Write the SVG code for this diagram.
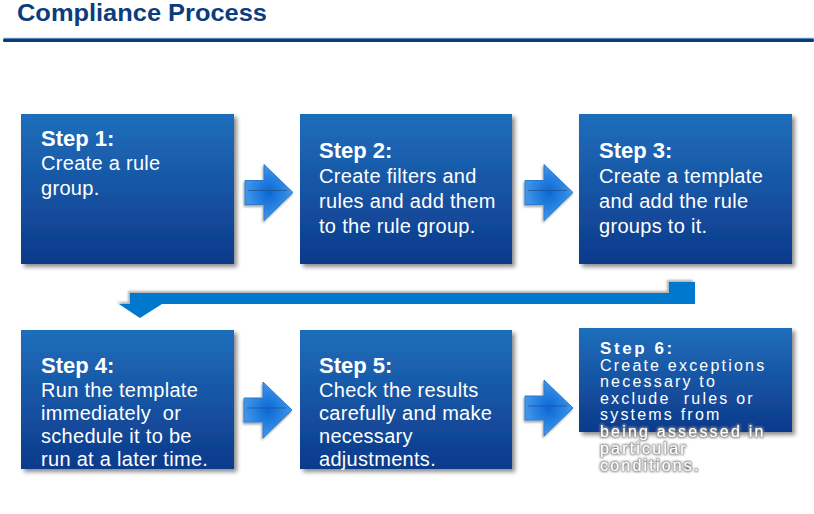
<svg xmlns="http://www.w3.org/2000/svg" width="814" height="514" viewBox="0 0 814 514">
<defs>
  <linearGradient id="boxGrad" x1="0" y1="0" x2="0" y2="1">
    <stop offset="0" stop-color="#1F6EBB"/>
    <stop offset="1" stop-color="#0D3A8B"/>
  </linearGradient>
  <radialGradient id="arrGrad" cx="0.5" cy="0.5" r="0.6">
    <stop offset="0" stop-color="#0A67D4"/>
    <stop offset="1" stop-color="#4CA2EE"/>
  </radialGradient>
  <filter id="boxShadow" x="-10%" y="-10%" width="125%" height="125%">
    <feDropShadow dx="3" dy="3" stdDeviation="2" flood-color="#000" flood-opacity="0.45"/>
  </filter>
  <filter id="arrShadow" x="-20%" y="-20%" width="140%" height="140%">
    <feDropShadow dx="-1" dy="2" stdDeviation="1.2" flood-color="#000" flood-opacity="0.35"/>
  </filter>
  <filter id="barShadow" x="-5%" y="-50%" width="110%" height="200%">
    <feDropShadow dx="-2" dy="-2" stdDeviation="1.2" flood-color="#000" flood-opacity="0.3"/>
  </filter>
  <filter id="halo" x="-10%" y="-60%" width="120%" height="220%">
    <feMorphology in="SourceAlpha" operator="dilate" radius="1" result="d"/>
    <feGaussianBlur in="d" stdDeviation="0.9" result="b"/>
    <feFlood flood-color="#8a8a8a"/>
    <feComposite in2="b" operator="in" result="s"/>
    <feMerge><feMergeNode in="s"/><feMergeNode in="SourceGraphic"/></feMerge>
  </filter>
  <g id="rarrow">
    <path d="M0,-12 L19,-12 L19,-28 L48,0 L19,28 L19,12 L0,12 Z" fill="url(#arrGrad)" stroke="#2C78CC" stroke-width="1"/>
    <line x1="3" y1="-2" x2="42" y2="-2" stroke="#1E4F8F" stroke-width="1" opacity="0.7"/>
  </g>
</defs>
<style>
  .title { font-family: "Liberation Sans", Arial, sans-serif; font-weight: bold; font-size: 23px; fill: #0B3D7E; }
  .box { fill: url(#boxGrad); filter: url(#boxShadow); }
  .step { font-family: "Liberation Sans", Arial, sans-serif; font-weight: bold; font-size: 22px; fill: #FFFFFF; }
  .txt { font-family: "Liberation Sans", Arial, sans-serif; font-size: 20px; fill: #FFFFFF; letter-spacing: 0.3px; }
  .step6 { font-family: "Liberation Sans", Arial, sans-serif; font-weight: bold; font-size: 17px; fill: #FFFFFF; letter-spacing: 2.6px; }
  .txt6 { font-family: "Liberation Sans", Arial, sans-serif; font-size: 16px; fill: #FFFFFF; letter-spacing: 2.2px; }
  .arr { filter: url(#arrShadow); }
</style>
<rect width="814" height="514" fill="#FFFFFF"/>

<g id="header">
  <text class="title" x="17" y="21" textLength="250" lengthAdjust="spacingAndGlyphs">Compliance Process</text>
  <rect x="3" y="37.5" width="811" height="1.5" fill="#C8CFD8"/>
  <rect x="3" y="38.5" width="811" height="3.5" rx="1.5" fill="#003F80"/>
</g>

<g id="step1">
  <rect class="box" x="21" y="114" width="213" height="150"/>
  <text class="step" x="41" y="146">Step 1:</text>
  <text class="txt" x="41" y="170">Create a rule</text>
  <text class="txt" x="41" y="195">group.</text>
</g>

<g id="step2">
  <rect class="box" x="300" y="114" width="212" height="150"/>
  <text class="step" x="319" y="158">Step 2:</text>
  <text class="txt" x="319" y="183">Create filters and</text>
  <text class="txt" x="319" y="208">rules and add them</text>
  <text class="txt" x="319" y="233">to the rule group.</text>
</g>

<g id="step3">
  <rect class="box" x="579" y="114" width="213" height="150"/>
  <text class="step" x="599" y="158">Step 3:</text>
  <text class="txt" x="599" y="183">Create a template</text>
  <text class="txt" x="599" y="208">and add the rule</text>
  <text class="txt" x="599" y="233">groups to it.</text>
</g>

<g id="step4">
  <rect class="box" x="21" y="330" width="213" height="139"/>
  <text class="step" x="41" y="373">Step 4:</text>
  <text class="txt" x="41" y="397">Run the template</text>
  <text class="txt" x="41" y="420" xml:space="preserve">immediately  or</text>
  <text class="txt" x="41" y="443">schedule it to be</text>
  <text class="txt" x="41" y="466">run at a later time.</text>
</g>

<g id="step5">
  <rect class="box" x="300" y="330" width="212" height="139"/>
  <text class="step" x="319" y="373">Step 5:</text>
  <text class="txt" x="319" y="397">Check the results</text>
  <text class="txt" x="319" y="420">carefully and make</text>
  <text class="txt" x="319" y="443">necessary</text>
  <text class="txt" x="319" y="466">adjustments.</text>
</g>

<g id="step6">
  <rect class="box" x="579" y="328" width="213" height="104"/>
  <text class="step6" x="600" y="354">Step 6:</text>
  <text class="txt6" x="600" y="371">Create exceptions</text>
  <text class="txt6" x="600" y="387">necessary to</text>
  <text class="txt6" x="600" y="404" xml:space="preserve">exclude  rules or</text>
  <text class="txt6" x="600" y="420">systems from</text>
  <text class="txt6" x="600" y="437" filter="url(#halo)">being assessed in</text>
  <text class="txt6" x="600" y="454" filter="url(#halo)">particular</text>
  <text class="txt6" x="600" y="471" filter="url(#halo)">conditions.</text>
</g>

<g id="connectors">
  <use href="#rarrow" class="arr" transform="translate(245,192.5)"/>
  <use href="#rarrow" class="arr" transform="translate(525,192.5)"/>
  <use href="#rarrow" class="arr" transform="translate(244,410)"/>
  <use href="#rarrow" class="arr" transform="translate(525,408)"/>
  <polygon points="669,282 695,282 695,304 162,304 140,318 119,304 130,304 130,293 669,293" fill="#0678CE" filter="url(#barShadow)"/>
</g>
</svg>
